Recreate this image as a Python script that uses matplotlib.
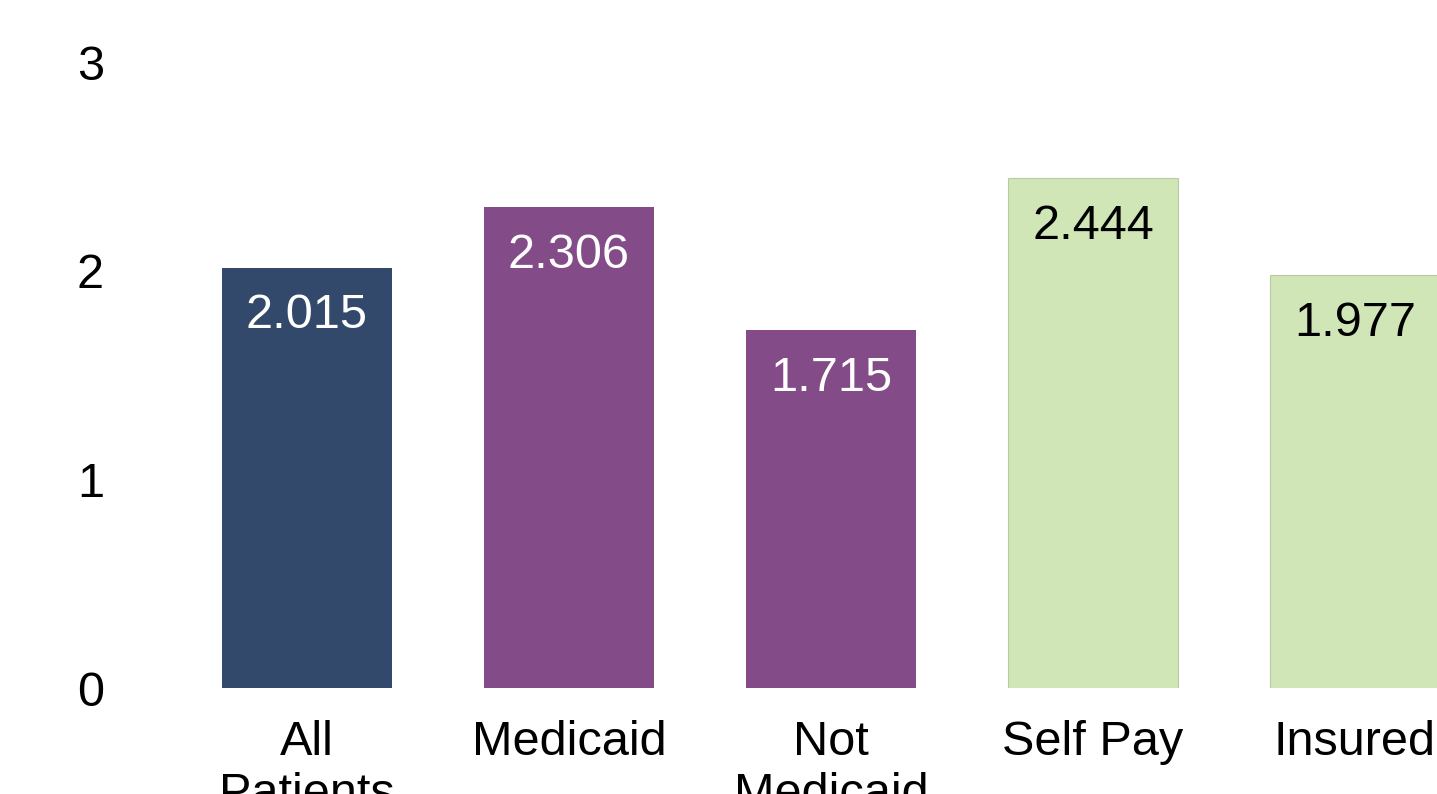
import numpy as np
import matplotlib
matplotlib.use("Agg")
import matplotlib.pyplot as plt

categories = ["All\nPatients", "Medicaid", "Not\nMedicaid", "Self Pay", "Insured"]
values = [2.015, 2.306, 1.715, 2.444, 1.977]
bar_colors = ["#33496b", "#834b87", "#834b87", "#d1e6b6", "#d1e6b6"]
label_colors = ["white", "white", "white", "black", "black"]
yticks = [0, 1, 2, 3]

plt.rcParams["font.family"] = ["Liberation Sans", "DejaVu Sans"]

fig = plt.figure(figsize=(14.37, 7.94), dpi=100)
W, H = 1437, 794
# axes placed in pixels: x=0 centre at 307 px, bar pitch 262 px
left_px, right_px = 140, 1437
ax = fig.add_axes([left_px / W, 1 - 688 / H, (right_px - left_px) / W, (688 - 62) / H])
x = np.arange(len(categories))
bars = ax.bar(x, values, width=170 / 262, color=bar_colors, linewidth=0)
for b, c in zip(bars, bar_colors):
    if c == "#d1e6b6":
        b.set_edgecolor("#b9c9a6")
        b.set_linewidth(0.8)

for xi, v, tc in zip(x, values, label_colors):
    ax.annotate(f"{v:.3f}", (xi, v), xytext=(0, -18.5), textcoords="offset points",
                ha="center", va="top", fontsize=35, color=tc)

ax.set_xlim((left_px - 307) / 262, (right_px - 307) / 262)
ax.set_ylim(0, 3)
ax.set_yticks(yticks)
ax.set_yticklabels([str(t) for t in yticks])
ax.set_xticks(x)
ax.set_xticklabels(categories, linespacing=1.2)
ax.tick_params(axis="both", length=0, labelsize=35)
ax.tick_params(axis="x", pad=23)
ax.tick_params(axis="y", pad=26)
for s in ax.spines.values():
    s.set_visible(False)

fig.savefig("out.png", dpi=100)
